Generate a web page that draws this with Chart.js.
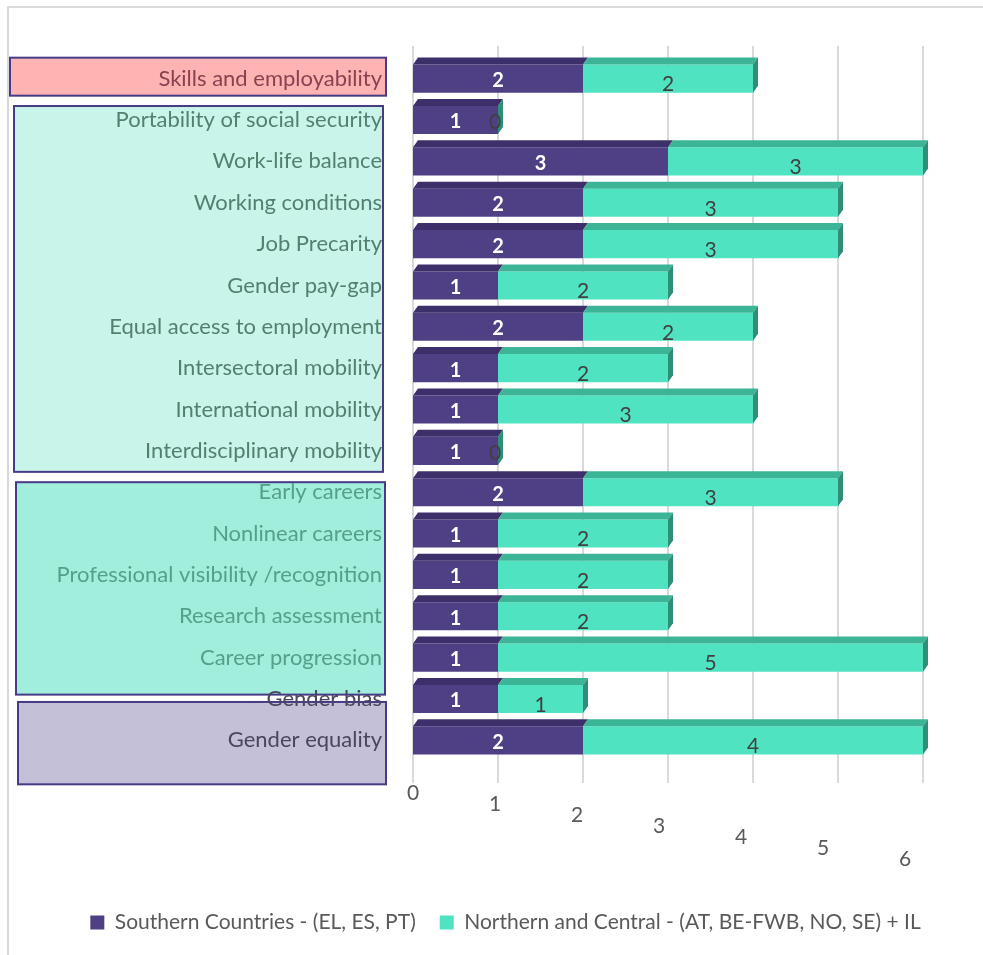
<!DOCTYPE html>
<html>
<head>
<meta charset="utf-8">
<script src="https://cdn.jsdelivr.net/npm/chart.js@4.4.1/dist/chart.umd.min.js"></script>
<style>
  body { margin: 0; background: #fff; }
  #wrap { width: 983px; height: 955px; position: relative; }
</style>
</head>
<body>
<div id="wrap"><canvas id="myChart"></canvas></div>
<script>
const categories = [
  'Skills and employability',
  'Portability of social security',
  'Work-life balance',
  'Working conditions',
  'Job Precarity',
  'Gender pay-gap',
  'Equal access to employment',
  'Intersectoral mobility',
  'International mobility',
  'Interdisciplinary mobility',
  'Early careers',
  'Nonlinear careers',
  'Professional visibility /recognition',
  'Research assessment',
  'Career progression',
  'Gender bias',
  'Gender equality'
];
const southern = [2, 1, 3, 2, 2, 1, 2, 1, 1, 1, 2, 1, 1, 1, 1, 1, 2];
const northern = [2, 0, 3, 3, 3, 2, 2, 2, 3, 0, 3, 2, 2, 2, 5, 1, 4];
const seriesNames = ['Southern Countries - (EL, ES, PT)', 'Northern and Central - (AT, BE-FWB, NO, SE) + IL'];
const xMax = 6;

// label group boxes (style only)
const groups = [
  { first: 0, last: 0, fill: '#ffb3b3', text: '#8b4150', padTop: 21, padBottom: 17, x0: 10, x1: 386 },
  { first: 1, last: 9, fill: '#c9f4ea', text: '#52806f', padTop: 14, padBottom: 21, x0: 14, x1: 383 },
  { first: 10, last: 14, fill: '#a2eedd', text: '#55a08b', padTop: 10, padBottom: 37, x0: 16, x1: 385 },
  { first: 15, last: 16, fill: '#c4c0d7', text: '#4a4560', padTop: -3, padBottom: 44, x0: 18, x1: 386 }
];

const PURPLE = '#4f3f84', MINT = '#50e3c2';
const FONT = 'Lato, "Open Sans", sans-serif';

function groupOf(i) {
  return groups.find(g => i >= g.first && i <= g.last);
}

const boxes = {
  id: 'boxes',
  afterLayout(chart) {
    // centre the legend under the whole figure, not the padded area
    chart.legend.left += 44;
    chart.legend.right += 44;
  },
  beforeDraw(chart) {
    const ctx = chart.ctx, ys = chart.scales.y;
    ctx.save();
    // outer frame
    ctx.strokeStyle = '#d9d9d9';
    ctx.lineWidth = 2;
    ctx.beginPath();
    ctx.moveTo(8, 960); ctx.lineTo(8, 7); ctx.lineTo(990, 7);
    ctx.stroke();
    groups.forEach(g => {
      const top = ys.getPixelForValue(g.first) - g.padTop;
      const bottom = ys.getPixelForValue(g.last) + g.padBottom;
      ctx.fillStyle = g.fill;
      ctx.fillRect(g.x0, top, g.x1 - g.x0, bottom - top);
      ctx.strokeStyle = '#473a86';
      ctx.lineWidth = 2;
      ctx.strokeRect(g.x0, top, g.x1 - g.x0, bottom - top);
    });
    ctx.restore();
  },
  beforeDatasetsDraw(chart) {
    const ctx = chart.ctx, xs = chart.scales.x, area = chart.chartArea;
    ctx.save();
    ctx.strokeStyle = '#d9d9d9';
    ctx.lineWidth = 2;
    xs.ticks.forEach(t => {
      const x = xs.getPixelForValue(t.value);
      ctx.beginPath();
      ctx.moveTo(x, area.top - 12);
      ctx.lineTo(x, area.bottom + 22);
      ctx.stroke();
    });
    ctx.restore();
  }
};

const depth = {
  id: 'depth',
  afterDatasetsDraw(chart) {
    const ctx = chart.ctx;
    const dx = 5, dy = 7;
    const tops = ['#3d2f6a', '#3cb596'];
    ctx.save();
    chart.data.datasets.forEach((ds, di) => {
      chart.getDatasetMeta(di).data.forEach((bar, i) => {
        const p = bar.getProps(['x', 'y', 'base', 'height'], true);
        const left = Math.min(p.base, p.x), right = Math.max(p.base, p.x);
        const top = p.y - p.height / 2, bottom = p.y + p.height / 2;
        if (right - left > 0) {
          ctx.fillStyle = tops[di];
          ctx.beginPath();
          ctx.moveTo(left, top); ctx.lineTo(left + dx, top - dy);
          ctx.lineTo(right + dx, top - dy); ctx.lineTo(right, top);
          ctx.closePath(); ctx.fill();
        }
        if (di === 1) {
          ctx.fillStyle = '#2f8e78';
          ctx.beginPath();
          ctx.moveTo(right, top); ctx.lineTo(right + dx, top - dy);
          ctx.lineTo(right + dx, bottom - dy); ctx.lineTo(right, bottom);
          ctx.closePath(); ctx.fill();
        }
      });
    });
    // value labels
    ctx.textAlign = 'center';
    ctx.textBaseline = 'middle';
    chart.data.datasets.forEach((ds, di) => {
      chart.getDatasetMeta(di).data.forEach((bar, i) => {
        const p = bar.getProps(['x', 'y', 'base'], true);
        const v = ds.data[i];
        const cx = v === 0 ? p.x - 3 : (p.x + p.base) / 2;
        if (di === 0) {
          ctx.fillStyle = '#ffffff';
          ctx.font = 'bold 20px ' + FONT;
        } else {
          ctx.fillStyle = '#404040';
          ctx.font = '21px ' + FONT;
        }
        ctx.fillText(String(v), cx, p.y + (di === 1 && v !== 0 ? 6 : 2));
      });
    });
    ctx.restore();
  },
  afterDraw(chart) {
    // x tick labels, staggered like the tilted 3D floor
    const ctx = chart.ctx, xs = chart.scales.x, area = chart.chartArea;
    ctx.save();
    ctx.fillStyle = '#595959';
    ctx.font = '21px ' + FONT;
    ctx.textAlign = 'center';
    ctx.textBaseline = 'middle';
    xs.ticks.forEach((t, i) => {
      ctx.fillText(String(t.value), xs.getPixelForValue(t.value) - i * 3, area.bottom + 32 + i * 11);
    });
    ctx.restore();
  }
};

const ctx = document.getElementById('myChart').getContext('2d');

const config = {
  type: 'bar',
  data: {
    labels: categories,
    datasets: [
      { label: seriesNames[0], data: southern, backgroundColor: PURPLE, barPercentage: 0.68, categoryPercentage: 1 },
      { label: seriesNames[1], data: northern, backgroundColor: MINT, barPercentage: 0.68, categoryPercentage: 1 }
    ]
  },
  options: {
    indexAxis: 'y',
    responsive: true,
    maintainAspectRatio: false,
    animation: false,
    layout: { padding: { top: 58, right: 60, bottom: 12, left: 0 } },
    scales: {
      x: {
        stacked: true,
        min: 0,
        max: xMax,
        ticks: { stepSize: 1, display: false },
        grid: { display: false },
        border: { display: false },
        afterFit(s) { s.height = 127; }
      },
      y: {
        stacked: true,
        grid: { display: false, drawTicks: false },
        border: { display: false },
        ticks: {
          autoSkip: false,
          padding: 31,
          font: { family: FONT, size: 22 },
          color: (c) => groupOf(c.index).text
        },
        afterFit(s) { s.width = 413; }
      }
    },
    plugins: {
      legend: {
        position: 'bottom',
        labels: {
          boxWidth: 14,
          boxHeight: 14,
          padding: 24,
          color: '#595959',
          font: { family: FONT, size: 21 }
        }
      },
      tooltip: { enabled: false }
    }
  },
  plugins: [boxes, depth]
};

var myChart = new Chart(ctx, config);
</script>
</body>
</html>
